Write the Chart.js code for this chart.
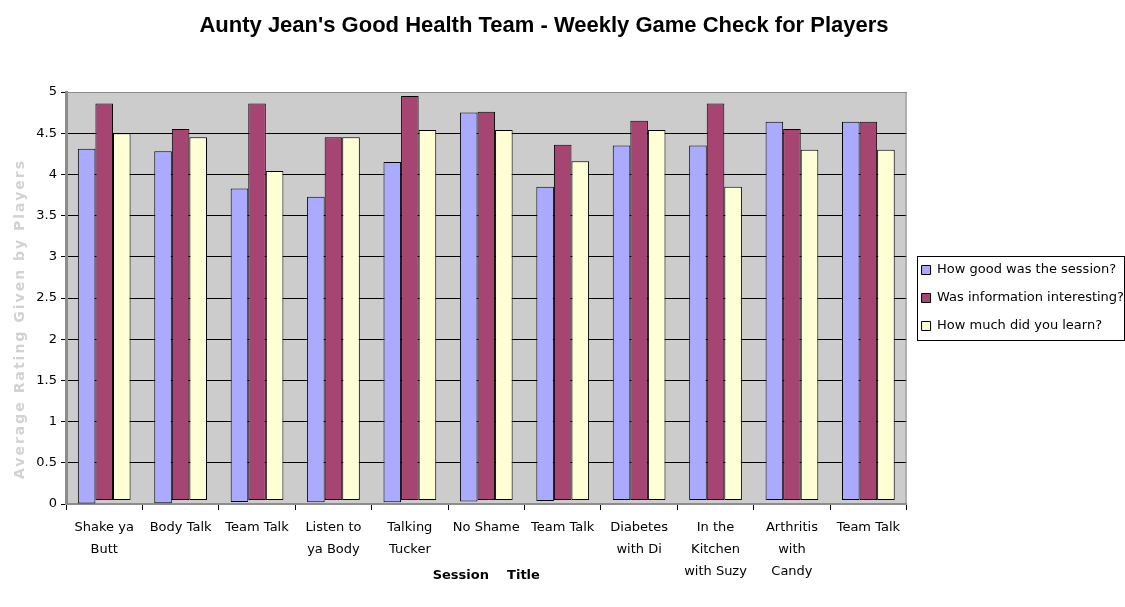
<!DOCTYPE html>
<html><head><meta charset="utf-8">
<script src="https://cdn.jsdelivr.net/npm/chart.js@4.4.1/dist/chart.umd.min.js"></script>
<style>html,body{margin:0;padding:0;background:#fff}#wrap{width:1125px;height:607px;position:relative}canvas{display:block}</style>
</head><body><div id="wrap"><canvas id="c" width="1125" height="607"></canvas></div>
<script>
const chartTitle = "Aunty Jean's Good Health Team - Weekly Game Check for Players";
const yTitle = 'Average Rating Given by Players';
const xTitle = 'Session    Title';
const categories = [['Shake ya','Butt'],['Body Talk'],['Team Talk'],['Listen to','ya Body'],['Talking','Tucker'],['No Shame'],['Team Talk'],['Diabetes','with Di'],['In the','Kitchen','with Suzy'],['Arthritis','with','Candy'],['Team Talk']];
const seriesNames = ['How good was the session?','Was information interesting?','How much did you learn?'];
const sessionGood     = [4.31,4.28,3.83,3.73,4.15,4.75,3.85,4.35,4.35,4.64,4.64];
const infoInteresting = [4.86,4.55,4.86,4.45,4.95,4.76,4.36,4.65,4.86,4.55,4.64];
const howMuchLearned  = [4.50,4.45,4.04,4.45,4.54,4.54,4.16,4.54,3.85,4.30,4.30];
const sessionBase     = [0,0.01,0.025,0.02,0.02,0.03,0.035,0.05,0.05,0.05,0.05];
const infoBase        = [0.05,0.05,0.05,0.05,0.05,0.05,0.05,0.05,0.05,0.05,0.05];
const learnedBase     = [0.05,0.05,0.05,0.05,0.05,0.05,0.05,0.05,0.05,0.05,0.05];
const yTicks = [0,0.5,1,1.5,2,2.5,3,3.5,4,4.5,5];

const pair = (b, v) => v.map((x, i) => [b[i], x]);

const plotBg = {
  id: 'plotBg',
  beforeDraw(chart) {
    const {ctx, chartArea: a} = chart;
    ctx.save();
    ctx.fillStyle = '#cccccc';
    ctx.fillRect(a.left, a.top, a.right - a.left, a.bottom - a.top);
    ctx.restore();
  },
  afterDatasetsDraw(chart) {
    const {ctx, chartArea: a} = chart;
    ctx.save();
    ctx.strokeStyle = '#8c8c8c';
    ctx.lineWidth = 1;
    ctx.beginPath();
    ctx.moveTo(a.left, a.top + 0.5); ctx.lineTo(a.right - 0.5, a.top + 0.5); ctx.lineTo(a.right - 0.5, a.bottom);
    ctx.stroke();
    ctx.restore();
  },
  afterDraw(chart) {
    const {ctx} = chart;
    ctx.save();
    ctx.font = 'bold 22px "Liberation Sans", Arial, sans-serif';
    ctx.fillStyle = '#000';
    ctx.textAlign = 'center';
    ctx.textBaseline = 'middle';
    ctx.fillText(chartTitle, 544, 26);
    ctx.restore();
    // y axis title
    ctx.save();
    ctx.translate(20, 319);
    ctx.rotate(-Math.PI / 2);
    ctx.font = 'bold 14px "DejaVu Sans", sans-serif';
    try { ctx.letterSpacing = '2px'; } catch (e) {}
    ctx.fillStyle = '#d2d2d2';
    ctx.textAlign = 'center';
    ctx.textBaseline = 'middle';
    ctx.fillText(yTitle, 0, 0);
    ctx.restore();
    // legend border
    const lg = chart.legend;
    if (lg && lg.legendHitBoxes && lg.legendHitBoxes.length) {
      const hb = lg.legendHitBoxes;
      const c0 = hb[0].top + hb[0].height / 2;
      const c1 = hb[hb.length - 1].top + hb[hb.length - 1].height / 2;
      const l = Math.round(hb[0].left - 5);
      ctx.save();
      ctx.strokeStyle = '#000';
      ctx.lineWidth = 1;
      ctx.strokeRect(l + 0.5, Math.round(c0 - 14) + 0.5, 1124 - l, Math.round(c1 - c0 + 28));
      ctx.restore();
    }
  }
};

new Chart(document.getElementById('c'), {
  type: 'bar',
  data: {
    labels: categories,
    datasets: [
      {label: seriesNames[0], data: pair(sessionBase, sessionGood), backgroundColor: '#aaaaff', borderColor: '#000', borderWidth: 1, borderSkipped: false},
      {label: seriesNames[1], data: pair(infoBase, infoInteresting), backgroundColor: '#a64472', borderColor: '#000', borderWidth: 1, borderSkipped: false},
      {label: seriesNames[2], data: pair(learnedBase, howMuchLearned), backgroundColor: '#ffffd6', borderColor: '#000', borderWidth: 1, borderSkipped: false}
    ]
  },
  options: {
    responsive: false,
    animation: false,
    devicePixelRatio: 1,
    layout: {padding: {top: 92, left: 0, right: -9, bottom: 0}},
    datasets: {bar: {categoryPercentage: 0.69, barPercentage: 1.0}},
    plugins: {
      title: {display: false},
      tooltip: {enabled: false},
      legend: {
        position: 'right',
        fullSize: false,
        labels: {
          color: '#000',
          font: {family: '"DejaVu Sans", sans-serif', size: 13},
          boxWidth: 9, boxHeight: 9, padding: 15
        }
      }
    },
    scales: {
      x: {
        afterFit(scale) { scale.height = 103; },
        grid: {display: true, drawOnChartArea: false, offset: true, color: '#000', tickLength: 6, tickColor: '#000'},
        border: {display: true, color: '#8c8c8c', width: 2},
        ticks: {color: '#000', maxRotation: 0, autoSkip: false, font: {family: '"DejaVu Sans", sans-serif', size: 13, lineHeight: 22/13}, padding: 7},
        title: {display: true, text: xTitle, color: '#000', font: {family: '"DejaVu Sans", sans-serif', size: 13, weight: 'bold'}, padding: {top: 4, bottom: 24}}
      },
      y: {
        min: 0, max: 5,
        afterFit(scale) { scale.width = 66; },
        grid: {color: '#000', tickLength: 5, tickColor: '#000', lineWidth: 1},
        border: {display: true, color: '#8c8c8c', width: 3},
        ticks: {stepSize: 0.5, color: '#000', font: {family: '"DejaVu Sans", sans-serif', size: 13}, padding: 4,
          callback: (v) => yTicks.includes(v) ? String(v) : ''},
        title: {display: false}
      }
    }
  },
  plugins: [plotBg]
});
</script></body></html>
